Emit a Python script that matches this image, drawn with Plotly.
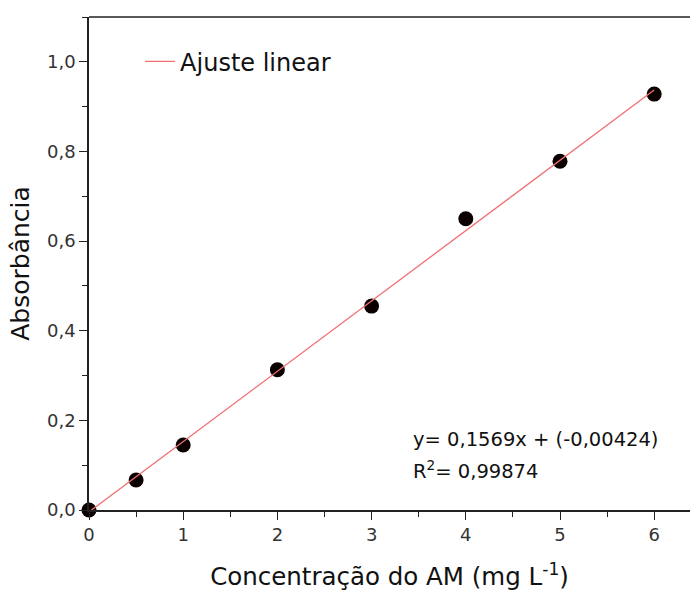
import plotly.graph_objects as go

conc = [0, 0.5, 1, 2, 3, 4, 5, 6]
absorb = [0.0, 0.067, 0.145, 0.313, 0.455, 0.650, 0.778, 0.928]
slope = 0.1569
intercept = -0.00424
fit_x = [0, 6]
fit_y = [slope * v + intercept for v in fit_x]

y_ticks = [0, 0.2, 0.4, 0.6, 0.8, 1.0]
y_labels = ["0,0", "0,2", "0,4", "0,6", "0,8", "1,0"]
x_ticks = [0, 1, 2, 3, 4, 5, 6]

FONT = "DejaVu Sans, Arial, sans-serif"

fig = go.Figure()
fig.add_trace(go.Scatter(x=conc, y=absorb, mode="markers",
                         marker=dict(color="#0a0000", size=15), showlegend=False,
                         cliponaxis=False))
fig.add_trace(go.Scatter(x=fit_x, y=fit_y, mode="lines", name="Ajuste linear",
                         line=dict(color="#f07070", width=1.3)))

fig.update_layout(
    width=690, height=592,
    margin=dict(l=89, r=0, t=17, b=82),
    plot_bgcolor="white", paper_bgcolor="white",
    font=dict(family=FONT, color="#222"),
    legend=dict(x=0.085, y=0.909, xanchor="left", yanchor="middle",
                font=dict(size=24, color="#111"), bgcolor="rgba(0,0,0,0)"),
    xaxis=dict(range=[0, 6.38], tickvals=x_ticks, ticks="outside", ticklen=8,
               tickwidth=1.2, tickcolor="#222", showline=True, linecolor="#222",
               linewidth=1.5, mirror=False, showgrid=False, zeroline=False,
               tickfont=dict(size=18, color="#333"),
               minor=dict(dtick=0.5, ticks="outside", ticklen=5, tickcolor="#222", tickwidth=1.2),
               title=dict(text="Concentração do AM (mg L<sup>-1</sup>)", font=dict(size=24.5, color="#111"),
                          standoff=24)),
    yaxis=dict(range=[0, 1.1], tickvals=y_ticks, ticktext=y_labels, ticks="outside",
               ticklen=8, tickwidth=1.2, tickcolor="#222", showline=True, linecolor="#222",
               linewidth=1.5, showgrid=False, zeroline=False,
               tickfont=dict(size=18, color="#333"),
               minor=dict(dtick=0.1, ticks="outside", ticklen=5, tickcolor="#222", tickwidth=1.2),
               title=dict(text="Absorbância", font=dict(size=25, color="#111"), standoff=10)),
)
# top border line
fig.add_shape(type="line", xref="paper", yref="paper", x0=0, x1=1, y0=1, y1=1,
              line=dict(color="#222", width=1.5))

fig.add_annotation(xref="paper", yref="paper", x=0.535, y=0.142, xanchor="left", yanchor="middle",
                   text="y= 0,1569x + (-0,00424)", showarrow=False,
                   font=dict(size=19.5, color="#111"))
fig.add_annotation(xref="paper", yref="paper", x=0.535, y=0.081, xanchor="left", yanchor="middle",
                   text="R<sup>2</sup>= 0,99874", showarrow=False,
                   font=dict(size=19.5, color="#111"))

fig.write_html("out.html")
